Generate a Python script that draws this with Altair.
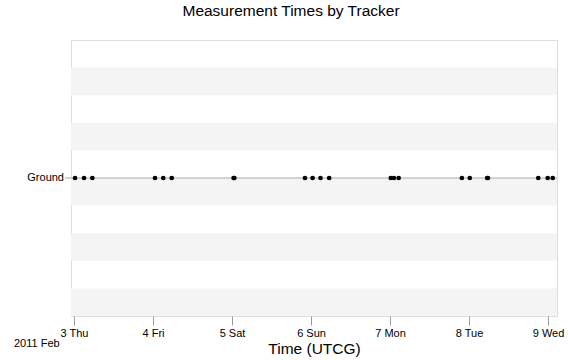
import altair as alt
import pandas as pd

title = "Measurement Times by Tracker"
x_title = "Time (UTCG)"
period_label = "2011 Feb"

trackers = ["Ground"]
tracker_pos = [5]

times = [
    "2011-02-03T00:19:00Z", "2011-02-03T03:03:00Z", "2011-02-03T05:34:00Z",
    "2011-02-04T00:36:00Z", "2011-02-04T03:07:00Z", "2011-02-04T05:41:00Z",
    "2011-02-05T00:29:00Z", "2011-02-05T00:43:00Z",
    "2011-02-05T22:10:00Z", "2011-02-06T00:29:00Z", "2011-02-06T02:53:00Z", "2011-02-06T05:31:00Z",
    "2011-02-07T00:14:00Z", "2011-02-07T01:12:00Z", "2011-02-07T02:38:00Z",
    "2011-02-07T21:50:00Z", "2011-02-08T00:14:00Z", "2011-02-08T05:31:00Z", "2011-02-08T05:45:00Z",
    "2011-02-08T21:03:00Z", "2011-02-08T23:54:00Z", "2011-02-09T01:26:00Z",
]
domain_start = "2011-02-02T23:05:00Z"
domain_end = "2011-02-09T02:44:00Z"
tick_days = [3, 4, 5, 6, 7, 8, 9]
stripe_starts = [0, 2, 4, 6, 8]

W, H = 486, 276
FONT = "Liberation Sans"

pts = pd.DataFrame({"t": times, "tracker": trackers[0], "pos": tracker_pos[0]})
stripes = pd.DataFrame({"y0": stripe_starts, "y1": [s + 1 for s in stripe_starts]})
trk = pd.DataFrame({"tracker": trackers, "pos": tracker_pos})

yscale = alt.Scale(domain=[0, 10], nice=False, zero=False)
yaxis = alt.Axis(
    values=tracker_pos, labels=False, ticks=False, title=None, grid=False,
    domain=False)
xscale = alt.Scale(type="utc", domain=[domain_start, domain_end], nice=False)

stripe_layer = alt.Chart(stripes).mark_rect(color="#f4f4f4").encode(
    x=alt.value(0), x2=alt.value(W),
    y=alt.Y("y0:Q", scale=yscale, axis=yaxis),
    y2="y1:Q",
)

rule_layer = alt.Chart(trk).mark_rule(color="#aaaaaa", strokeWidth=1).encode(
    x=alt.value(-6), x2=alt.value(W),
    y=alt.Y("pos:Q", scale=yscale, axis=yaxis),
)

tracker_labels = alt.Chart(trk).mark_text(
    align="right", baseline="middle", fontSize=11, font=FONT, color="black"
).encode(
    x=alt.value(-7),
    y=alt.Y("pos:Q", scale=yscale, axis=yaxis),
    text="tracker:N",
)

point_layer = alt.Chart(pts).mark_circle(color="black", size=22, opacity=1).encode(
    x=alt.X("t:T", scale=xscale, axis=alt.Axis(
        values=[alt.DateTime(year=2011, month=2, date=d, utc=True) for d in tick_days],
        labelExpr="utcFormat(datum.value, '%-d %a')", title=x_title, grid=False, domain=False,
        tickSize=9, tickColor="#999999", labelFontSize=11, labelColor="#000000",
        labelFont=FONT, labelPadding=2, titleFont=FONT, titleFontSize=15.5,
        titleFontWeight="normal", titleColor="#000000", titlePadding=3,
        labelFlush=False)),
    y=alt.Y("pos:Q", scale=yscale, axis=yaxis),
)

label_layer = alt.Chart(pd.DataFrame({"txt": [period_label]})).mark_text(
    align="left", baseline="middle", fontSize=11, font=FONT, color="black"
).encode(x=alt.value(-57), y=alt.value(H + 28), text="txt:N")

chart = alt.layer(stripe_layer, rule_layer, point_layer, tracker_labels, label_layer).properties(
    width=W, height=H,
    title=alt.TitleParams(title, fontSize=15.5, font=FONT, fontWeight="normal",
                          color="black", offset=21, anchor="middle", dx=-23),
    autosize=alt.AutoSizeParams(type="none"),
    padding={"left": 71, "top": 40, "right": 11, "bottom": 44},
).configure_view(stroke="#aaaaaa", strokeWidth=1.5).configure(background="white")

chart.save("out.html", embed_options={"renderer": "svg", "actions": False})
